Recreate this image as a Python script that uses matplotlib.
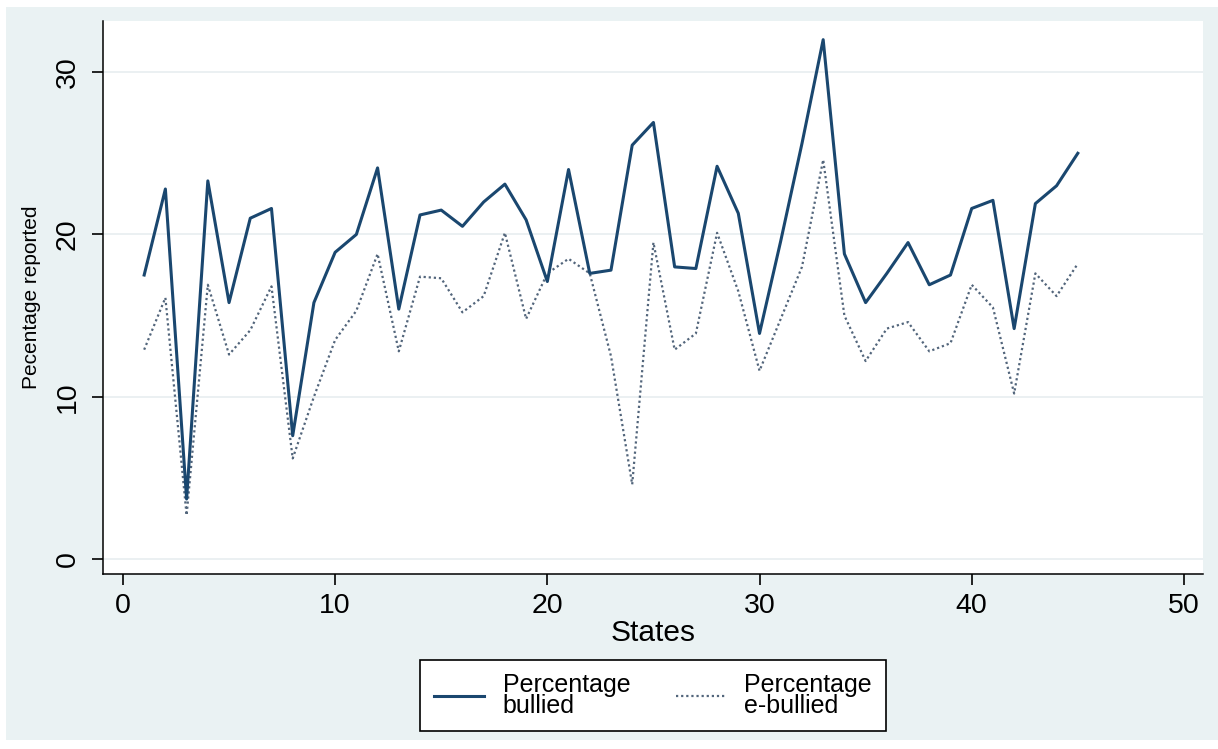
import matplotlib
matplotlib.use('Agg')
import matplotlib.pyplot as plt
from matplotlib.patches import Rectangle

# Data
states = list(range(1, 46))
bullied = [17.5, 22.8, 3.7, 23.3, 15.8, 21.0, 21.6, 7.6, 15.8, 18.9,
           20.0, 24.1, 15.4, 21.2, 21.5, 20.5, 22.0, 23.1, 20.9, 17.1,
           24.0, 17.6, 17.8, 25.5, 26.9, 18.0, 17.9, 24.2, 21.3, 13.9,
           19.6, 25.6, 32.0, 18.8, 15.8, 17.6, 19.5, 16.9, 17.5, 21.6,
           22.1, 14.2, 21.9, 23.0, 25.0]
e_bullied = [12.9, 16.1, 2.7, 16.9, 12.6, 14.1, 16.8, 6.2, 10.0, 13.5,
             15.3, 18.8, 12.8, 17.4, 17.3, 15.2, 16.2, 20.1, 14.8, 17.6,
             18.5, 17.6, 12.5, 4.6, 19.5, 12.9, 13.9, 20.1, 16.5, 11.6,
             14.8, 18.0, 24.6, 15.0, 12.2, 14.2, 14.6, 12.8, 13.3, 16.9,
             15.5, 10.2, 17.6, 16.2, 18.2]
xticks = [0, 10, 20, 30, 40, 50]
yticks = [0, 10, 20, 30]
labels = ['Percentage\nbullied', 'Percentage\ne-bullied']

plt.rcParams['font.family'] = ['Liberation Sans', 'DejaVu Sans']

W, H = 1218, 749
fig = plt.figure(figsize=(W / 100, H / 100), dpi=100, facecolor='white')

# Stata-like graph region background, behind the axes
bg = Rectangle((6 / W, 9 / H), 1 - 6 / W, 1 - 16 / H,
               transform=fig.transFigure, facecolor='#eaf2f3',
               edgecolor='none', zorder=-10)
fig.add_artist(bg)

ax = fig.add_axes([103 / W, (H - 574) / H, 1100 / W, 553 / H])
ax.set_facecolor('white')

ax.plot(states, bullied, color='#1a476f', lw=2.2, label=labels[0], zorder=3)
ax.plot(states, e_bullied, color='#52657b', lw=1.6, ls=(0, (1, 1.3)),
        label=labels[1], zorder=2)

ax.set_xlim(-0.94, 50.9)
ax.set_ylim(-0.92, 33.15)
ax.set_xticks(xticks)
ax.set_yticks(yticks)
ax.grid(axis='y', color='#e8eef0', lw=1.2, zorder=0)
ax.set_axisbelow(True)

for s in ['top', 'right']:
    ax.spines[s].set_visible(False)
for s in ['left', 'bottom']:
    ax.spines[s].set_linewidth(1.1)
    ax.spines[s].set_color('black')

ax.tick_params(axis='both', direction='out', length=8, width=1.2, labelsize=20.5, colors='black')
ax.tick_params(axis='x', pad=6)
ax.tick_params(axis='y', pad=8)
for t in ax.get_yticklabels():
    t.set_rotation(90)
    t.set_va('center')

ax.set_xlabel('States', fontsize=21.5, labelpad=0)
ax.set_ylabel('Pecentage reported', fontsize=15, labelpad=10)

leg = fig.legend(loc='center', bbox_to_anchor=(653 / W, 1 - 695.5 / H), ncol=2,
                 fontsize=18, frameon=True, fancybox=False, edgecolor='black',
                 facecolor='white', framealpha=1, handlelength=2.0,
                 handletextpad=0.75, columnspacing=1.8, borderpad=0.55)
leg.get_frame().set_linewidth(1.2)
for t in leg.get_texts():
    t.set_linespacing(0.8)

fig.savefig('out.png', dpi=100, facecolor=fig.get_facecolor())
